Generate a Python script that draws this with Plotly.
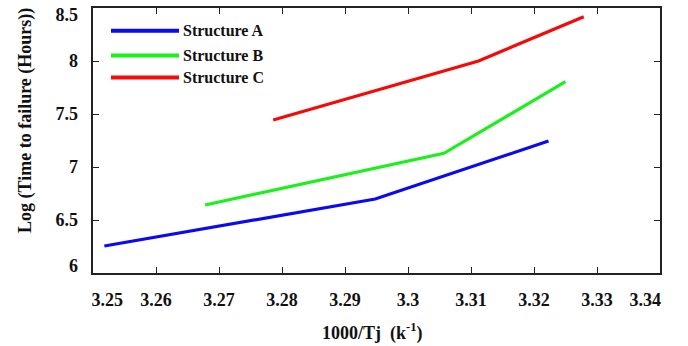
import plotly.graph_objects as go

# Data
a_x = [3.2518, 3.2948, 3.3223]
a_y = [6.255, 6.698, 7.245]
b_x = [3.2678, 3.3057, 3.3250]
b_y = [6.642, 7.129, 7.805]
c_x = [3.2786, 3.3112, 3.3279]
c_y = [7.443, 8.000, 8.418]

series_names = ["Structure A", "Structure B", "Structure C"]
series_colors = ["#0a0af0", "#1cf01c", "#f50a0a"]

x_ticks = [3.25, 3.26, 3.27, 3.28, 3.29, 3.30, 3.31, 3.32, 3.33, 3.34]
x_labels = ["3.25", "3.26", "3.27", "3.28", "3.29", "3.3", "3.31", "3.32", "3.33", "3.34"]
y_ticks = [6, 6.5, 7, 7.5, 8, 8.5]
y_labels = ["6", "6.5", "7", "7.5", "8", "8.5"]

x_range = [3.25, 3.34]
y_range = [6, 8.5]

FONT = "Liberation Serif, Times New Roman, serif"
AX = "#222222"
TXT = "#111111"

W, H = 688, 346
ML, MR, MT, MB = 93, 28, 8, 73
PW, PH = W - ML - MR, H - MT - MB

fig = go.Figure()
for xs, ys, name, col in zip([a_x, b_x, c_x], [a_y, b_y, c_y], series_names, series_colors):
    fig.add_trace(go.Scatter(x=xs, y=ys, mode="lines", name=name,
                             line=dict(color=col, width=3.2), showlegend=False))

# invisible trace for the label-only overlay axes
fig.add_trace(go.Scatter(x=[None], y=[None], xaxis="x2", yaxis="y2",
                         showlegend=False, hoverinfo="skip"))

# end labels are shifted inward in the reference
x_lab_pos = list(x_ticks)
x_lab_pos[0] = x_ticks[0] + 0.00227
x_lab_pos[-1] = x_ticks[-1] - 0.00233
y_lab_pos = list(y_ticks)
y_lab_pos[0] = y_ticks[0] + 0.066
y_lab_pos[-1] = y_ticks[-1] - 0.066

# manual legend (long sample lines as in the reference)
def px_x(p):
    return (p - ML) / PW

def px_y(p):
    return (H - MB - p) / PH

shapes = []
annotations = []
leg_rows = [30.7, 55.5, 77.5]
for name, col, yy in zip(series_names, series_colors, leg_rows):
    shapes.append(dict(type="line", xref="paper", yref="paper",
                       x0=px_x(111), x1=px_x(179), y0=px_y(yy), y1=px_y(yy),
                       line=dict(color=col, width=4)))
    annotations.append(dict(xref="paper", yref="paper", x=px_x(181), y=px_y(yy),
                            xanchor="left", yanchor="middle", text=name, showarrow=False,
                            font=dict(family=FONT, size=16, weight="bold", color=TXT)))

annotations.append(dict(xref="paper", yref="paper", x=px_x(372), y=px_y(332),
                        xanchor="center", yanchor="middle", showarrow=False,
                        text="1000/Tj  (k<sup>-1</sup>)",
                        font=dict(family=FONT, size=18, weight="bold", color=TXT)))
annotations.append(dict(xref="paper", yref="paper", x=px_x(25), y=px_y(121),
                        xanchor="center", yanchor="middle", showarrow=False,
                        textangle=-90, text="Log (Time to failure (Hours))",
                        font=dict(family=FONT, size=18, weight="bold", color=TXT)))

fig.update_layout(
    width=W, height=H,
    margin=dict(l=ML, r=MR, t=MT, b=MB, autoexpand=False),
    paper_bgcolor="white", plot_bgcolor="white",
    font=dict(family=FONT, size=18, color=TXT),
    showlegend=False,
    shapes=shapes, annotations=annotations,
    xaxis=dict(range=x_range, tickvals=x_ticks, showticklabels=False,
               ticks="inside", ticklen=6, tickwidth=1.3, tickcolor=AX,
               showline=True, linecolor=AX, linewidth=1.5, mirror="ticks",
               showgrid=False, zeroline=False, fixedrange=True, automargin=False),
    yaxis=dict(range=y_range, tickvals=y_ticks, showticklabels=False,
               ticks="inside", ticklen=6, tickwidth=1.3, tickcolor=AX,
               showline=True, linecolor=AX, linewidth=1.5, mirror="ticks",
               showgrid=False, zeroline=False, fixedrange=True, automargin=False),
    xaxis2=dict(range=x_range, overlaying="x", side="bottom", anchor="y",
                tickvals=x_lab_pos, ticktext=x_labels, ticks="",
                ticklabelstandoff=14, automargin=False,
                tickfont=dict(family=FONT, size=18, weight="bold", color=TXT),
                showline=False, showgrid=False, zeroline=False),
    yaxis2=dict(range=y_range, overlaying="y", side="left", anchor="x",
                tickvals=y_lab_pos, ticktext=y_labels, ticks="",
                ticklabelstandoff=14, automargin=False,
                tickfont=dict(family=FONT, size=18, weight="bold", color=TXT),
                showline=False, showgrid=False, zeroline=False),
)

fig.write_html("out.html", config={"displayModeBar": False},
               post_script="document.body.style.margin='0';document.body.style.overflow='hidden';")
